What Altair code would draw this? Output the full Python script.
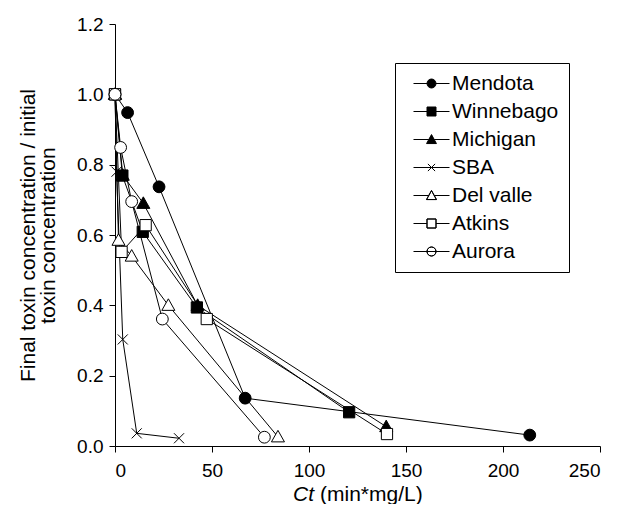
import altair as alt
import pandas as pd

# ---------------- data ----------------
series_names = ["Mendota", "Winnebago", "Michigan", "SBA", "Del valle", "Atkins", "Aurora"]

mendota_x = [0, 6.5, 22.7, 67.1, 213.8]
mendota_y = [1.0, 0.948, 0.737, 0.136, 0.031]
winnebago_x = [0, 3.8, 14.3, 42.2, 120.7]
winnebago_y = [1.0, 0.769, 0.609, 0.394, 0.096]
michigan_x = [0, 4.0, 14.6, 42.6, 139.8]
michigan_y = [1.0, 0.77, 0.69, 0.40, 0.055]
sba_x = [0, 0.8, 4.0, 11.2, 33.0]
sba_y = [1.0, 0.78, 0.303, 0.036, 0.022]
delvalle_x = [0, 1.8, 8.6, 27.5, 84.0]
delvalle_y = [1.0, 0.585, 0.54, 0.40, 0.026]
atkins_x = [0, 3.4, 15.8, 47.3, 140.2]
atkins_y = [1.0, 0.552, 0.628, 0.361, 0.034]
aurora_x = [0, 2.9, 8.6, 24.4, 77.0]
aurora_y = [1.0, 0.849, 0.695, 0.361, 0.025]

x_ticks = [0, 50, 100, 150, 200, 250]
y_ticks = [0.0, 0.2, 0.4, 0.6, 0.8, 1.0, 1.2]
y_title = ["Final toxin concentration / initial", "toxin concentration"]
x_title_italic = ["Ct"]
x_title_rest = ["(min*mg/L)"]

# ---------------- table ----------------
xs = [mendota_x, winnebago_x, michigan_x, sba_x, delvalle_x, atkins_x, aurora_x]
ys = [mendota_y, winnebago_y, michigan_y, sba_y, delvalle_y, atkins_y, aurora_y]
rows = []
for name, sx, sy in zip(series_names, xs, ys):
    for i, (a, b) in enumerate(zip(sx, sy)):
        rows.append({"series": name, "x": a, "y": b, "idx": i})
df = pd.DataFrame(rows)

# ---------------- styles ----------------
FONT = "Liberation Sans"
circ = "M-1,0A1,1 0 1,1 1,0A1,1 0 1,1 -1,0Z"
sq = "M-0.95,-0.95H0.95V0.95H-0.95Z"
tri = "M0,-1.1L1.1,0.85H-1.1Z"
xmark = "M-0.85,-0.85L0.85,0.85M-0.85,0.85L0.85,-0.85"
plot_shapes = [circ, sq, tri, xmark, tri, sq, circ]
plot_fills = ["black", "black", "black", "white", "white", "white", "white"]

# legend symbols: marker plus a horizontal line; open shapes drawn as a
# doubly traversed outline so that a black fill leaves them hollow
lg_circ_f = "M-4,0H-1M1,0H4M-1,0A1,1 0 1,1 1,0A1,1 0 1,1 -1,0Z"
lg_sq_f = "M-4,0H-1M1,0H4M-1,-1H1V1H-1Z"
lg_tri_f = "M-4,0H-0.6M0.6,0H4M0,-1.1L1.1,0.9H-1.1Z"
lg_x = "M-4,0H4M-0.8,-0.8L0.8,0.8M-0.8,0.8L0.8,-0.8"
lg_tri_o = "M-4,0H-0.6M0.6,0H4M0,-1.1L1.1,0.9H-1.1ZM0,-1.1L-1.1,0.9H1.1Z"
lg_sq_o = "M-4,0H-1M1,0H4M-1,-1H1V1H-1ZM-1,-1V1H1V-1Z"
lg_circ_o = "M-4,0H4M-1,0A1,1 0 1,1 1,0A1,1 0 1,1 -1,0ZM-1,0A1,1 0 1,0 1,0A1,1 0 1,0 -1,0Z"
legend_shapes = [lg_circ_f, lg_sq_f, lg_tri_f, lg_x, lg_tri_o, lg_sq_o, lg_circ_o]

xenc = alt.X("x:Q", scale=alt.Scale(domain=[0, 250], nice=False),
             axis=alt.Axis(values=x_ticks, title=None, labelPadding=9))
yenc = alt.Y("y:Q", scale=alt.Scale(domain=[0, 1.2], nice=False),
             axis=alt.Axis(values=y_ticks, format=".1f", title=y_title,
                           labelPadding=6, titlePadding=18, titleLineHeight=20))

base = alt.Chart(df)

lines = base.mark_line(color="black", strokeWidth=1).encode(
    x=xenc, y=yenc, detail="series:N", order="idx:Q"
)

points = base.mark_point(stroke="black", strokeWidth=1, size=140, opacity=1).encode(
    x=xenc, y=yenc,
    shape=alt.Shape("series:N", scale=alt.Scale(domain=series_names, range=plot_shapes), legend=None),
    fill=alt.Fill("series:N", scale=alt.Scale(domain=series_names, range=plot_fills), legend=None),
)

legend_layer = base.transform_filter("false").mark_point(
    filled=True, color="black", stroke="black", strokeWidth=1
).encode(
    x=xenc, y=yenc,
    shape=alt.Shape(
        "series:N",
        scale=alt.Scale(domain=series_names, range=legend_shapes),
        legend=alt.Legend(
            title=None, orient="none", legendX=280, legendY=39,
            strokeColor="black", fillColor="white", padding=10, cornerRadius=0,
            labelFont=FONT, labelFontSize=21, labelColor="black",
            symbolSize=81, symbolOffset=16, labelOffset=10, rowPadding=6,
            symbolStrokeWidth=1, symbolOpacity=1,
        ),
    ),
)

t_italic = alt.Chart(pd.DataFrame({"t": x_title_italic})).mark_text(
    align="right", baseline="alphabetic", font=FONT, fontSize=21,
    fontStyle="italic", color="black"
).encode(x=alt.value(199), y=alt.value(477), text="t:N")

t_rest = alt.Chart(pd.DataFrame({"t": x_title_rest})).mark_text(
    align="left", baseline="alphabetic", font=FONT, fontSize=21, color="black"
).encode(x=alt.value(205), y=alt.value(477), text="t:N")

chart = alt.layer(lines, points, legend_layer, t_italic, t_rest).resolve_scale(
    shape="independent"
).properties(
    width=485, height=422,
    autosize=alt.AutoSizeParams(type="none"),
    padding={"left": 107, "top": 16, "right": 9, "bottom": 58},
).configure_view(stroke=None).configure_axis(
    grid=False, domainColor="black", domainWidth=1, tickColor="black",
    tickWidth=1, tickSize=6, labelColor="black", labelFont=FONT,
    labelFontSize=19, titleFont=FONT, titleFontSize=21,
    titleFontWeight="normal", titleColor="black",
)

chart.save("out.html", embed_options={"renderer": "svg", "actions": False})
